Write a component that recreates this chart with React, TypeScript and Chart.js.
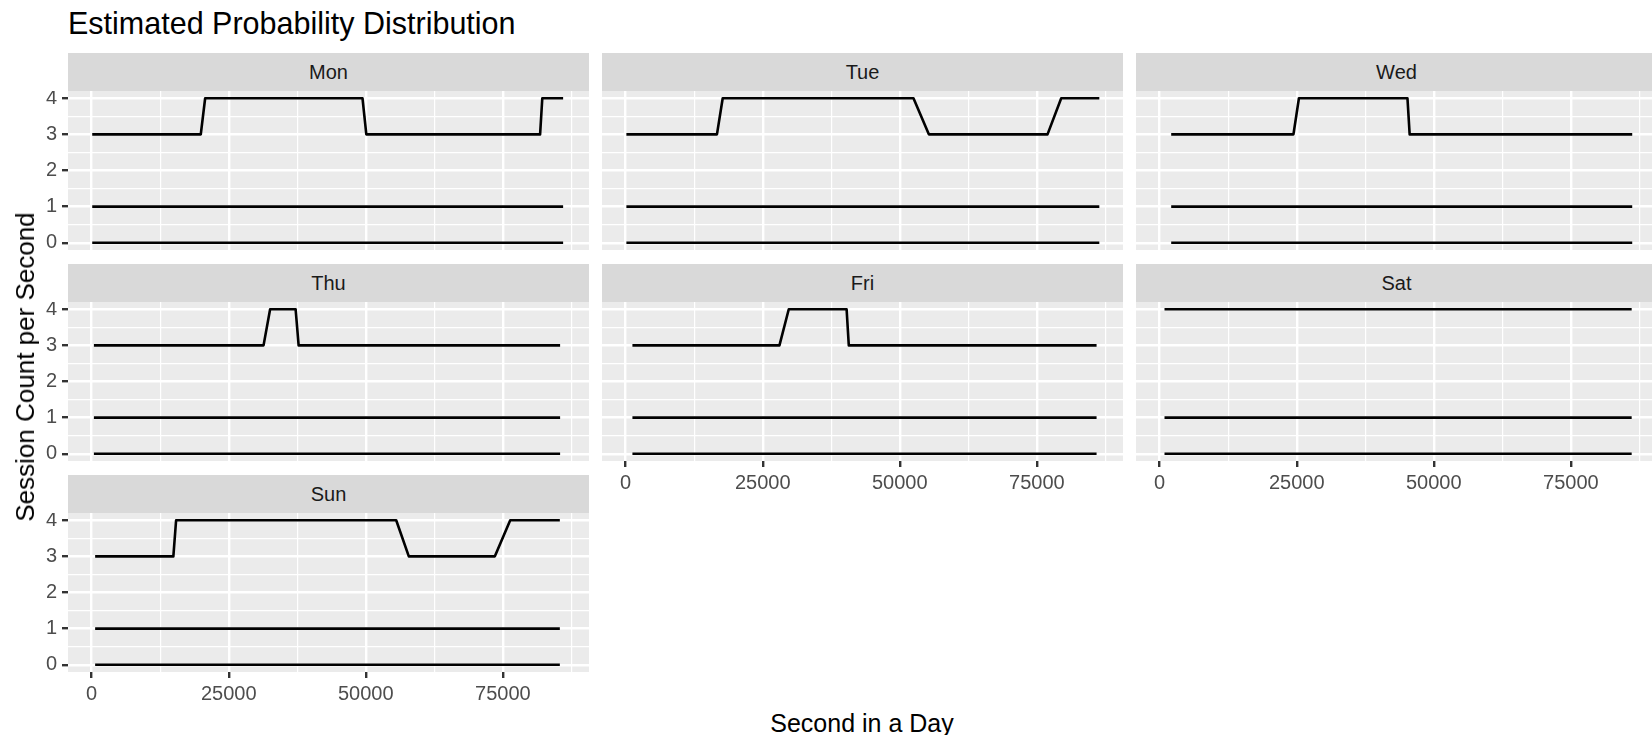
import React, { useEffect, useRef } from 'react';
import { Chart, registerables } from 'chart.js';

Chart.register(...registerables);

// ---------------- data ----------------
const DAYS = ['Mon', 'Tue', 'Wed', 'Thu', 'Fri', 'Sat', 'Sun'];
const X_MAJOR = [0, 25000, 50000, 75000];
const X_MINOR = [12500, 37500, 62500, 87500];
const Y_MAJOR = [0, 1, 2, 3, 4];
const Y_MINOR = [0.5, 1.5, 2.5, 3.5];
const LOW_LEVELS = [0, 1];

const MON_X = [100, 19900, 20700, 49400, 50100, 81800, 82200, 86000];
const MON_Y = [3, 3, 4, 4, 3, 3, 4, 4];
const TUE_X = [130, 16650, 17700, 52500, 55300, 76950, 79450, 86400];
const TUE_Y = [3, 3, 4, 4, 3, 3, 4, 4];
const WED_X = [2100, 24400, 25400, 45200, 45600, 86200];
const WED_Y = [3, 3, 4, 4, 3, 3];
const THU_X = [400, 31350, 32550, 37200, 37750, 85450];
const THU_Y = [3, 3, 4, 4, 3, 3];
const FRI_X = [1230, 28050, 29750, 40300, 40700, 85900];
const FRI_Y = [3, 3, 4, 4, 3, 3];
const SAT_X = [880, 86100];
const SAT_Y = [4, 4];
const SUN_X = [630, 14900, 15400, 55550, 57850, 73550, 76350, 85400];
const SUN_Y = [3, 3, 4, 4, 3, 3, 4, 4];

const SERIES_X = [MON_X, TUE_X, WED_X, THU_X, FRI_X, SAT_X, SUN_X];
const SERIES_Y = [MON_Y, TUE_Y, WED_Y, THU_Y, FRI_Y, SAT_Y, SUN_Y];

// ---------------- layout ----------------
const FONT = "'Liberation Sans', Arial, Helvetica, sans-serif";
const COL_LEFT = [68, 602, 1136];
const PANEL_W = 521;
const STRIP_TOP = [53, 264, 475];
const STRIP_H = 38;
const PLOT_H = 159;
const Y_AXIS_W = 68;
const X_AXIS_H = 46;
const X_MIN = -4320;
const X_MAX = 90720;
const Y_MIN = -0.2;
const Y_MAX = 4.2;

const bgPlugin = {
  id: 'panelBg',
  beforeDraw(chart: any) {
    const { ctx, chartArea } = chart;
    if (!chartArea) return;
    ctx.save();
    ctx.fillStyle = '#EBEBEB';
    ctx.fillRect(chartArea.left, chartArea.top, chartArea.right - chartArea.left, chartArea.bottom - chartArea.top);
    ctx.restore();
  },
};

function Panel({ index, col, row, showY, showX }: { index: number; col: number; row: number; showY: boolean; showX: boolean }) {
  const ref = useRef<HTMLCanvasElement | null>(null);
  const leftPad = showY ? Y_AXIS_W : 0;
  const bottomPad = showX ? X_AXIS_H : 0;
  const width = leftPad + PANEL_W;
  const height = PLOT_H + bottomPad;

  useEffect(() => {
    if (!ref.current) return;
    const xs = SERIES_X[index];
    const ys = SERIES_Y[index];
    const lineStyle = {
      borderColor: '#000000',
      borderWidth: 2.6,
      pointRadius: 0,
      tension: 0,
      fill: false,
      borderJoinStyle: 'round' as const,
    };
    const datasets: any[] = [
      { ...lineStyle, data: xs.map((v, i) => ({ x: v, y: ys[i] })) },
      ...LOW_LEVELS.map((lv) => ({
        ...lineStyle,
        data: [
          { x: xs[0], y: lv },
          { x: xs[xs.length - 1], y: lv },
        ],
      })),
    ];
    const chart = new Chart(ref.current, {
      type: 'line',
      data: { datasets },
      options: {
        animation: false,
        responsive: false,
        maintainAspectRatio: false,
        events: [],
        layout: { padding: 0 },
        plugins: { legend: { display: false }, tooltip: { enabled: false }, title: { display: false } },
        scales: {
          x: {
            type: 'linear',
            position: 'bottom',
            min: X_MIN,
            max: X_MAX,
            afterBuildTicks: (s: any) => {
              s.ticks = [...X_MAJOR, ...X_MINOR].sort((a, b) => a - b).map((v) => ({ value: v }));
            },
            afterFit: (s: any) => {
              s.height = bottomPad;
              s.paddingLeft = 0;
              s.paddingRight = 0;
            },
            ticks: {
              display: showX,
              autoSkip: false,
              maxRotation: 0,
              minRotation: 0,
              padding: 4,
              color: '#4D4D4D',
              font: { family: FONT, size: 20 },
              callback: (v: any) => (X_MAJOR.includes(Number(v)) ? String(v) : ''),
            },
            grid: {
              color: '#FFFFFF',
              lineWidth: (c: any) => (c.tick && X_MAJOR.includes(c.tick.value) ? 2.4 : 1.2),
              drawTicks: showX,
              tickLength: 6,
              tickWidth: 2.4,
              tickColor: (c: any) => (c.tick && X_MAJOR.includes(c.tick.value) ? '#333333' : 'rgba(0,0,0,0)'),
            },
            border: { display: false },
          },
          y: {
            type: 'linear',
            position: 'left',
            min: Y_MIN,
            max: Y_MAX,
            afterBuildTicks: (s: any) => {
              s.ticks = [...Y_MAJOR, ...Y_MINOR].sort((a, b) => a - b).map((v) => ({ value: v }));
            },
            afterFit: (s: any) => {
              s.width = leftPad;
              s.paddingTop = 0;
              s.paddingBottom = 0;
            },
            ticks: {
              display: showY,
              autoSkip: false,
              padding: 5,
              color: '#4D4D4D',
              font: { family: FONT, size: 20 },
              callback: (v: any) => (Y_MAJOR.includes(Number(v)) ? String(v) : ''),
            },
            grid: {
              color: '#FFFFFF',
              lineWidth: (c: any) => (c.tick && Y_MAJOR.includes(c.tick.value) ? 2.4 : 1.2),
              drawTicks: showY,
              tickLength: 6,
              tickWidth: 2.4,
              tickColor: (c: any) => (c.tick && Y_MAJOR.includes(c.tick.value) ? '#333333' : 'rgba(0,0,0,0)'),
            },
            border: { display: false },
          },
        },
      } as any,
      plugins: [bgPlugin],
    });
    return () => chart.destroy();
  }, [index, showX, showY]);

  const plotTop = STRIP_TOP[row] + STRIP_H;
  return (
    <>
      <div
        style={{
          position: 'absolute',
          left: COL_LEFT[col],
          top: STRIP_TOP[row],
          width: PANEL_W,
          height: STRIP_H,
          background: '#D9D9D9',
          color: '#1A1A1A',
          fontFamily: FONT,
          fontSize: 20,
          lineHeight: `${STRIP_H}px`,
          textAlign: 'center',
        }}
      >
        {DAYS[index]}
      </div>
      <canvas
        ref={ref}
        width={width}
        height={height}
        style={{ position: 'absolute', left: COL_LEFT[col] - leftPad, top: plotTop, width, height }}
      />
    </>
  );
}

export default function App() {
  const facets = DAYS.map((d, i) => {
    const col = i % 3;
    const row = Math.floor(i / 3);
    const showY = col === 0;
    const showX = i + 3 >= DAYS.length;
    return <Panel key={d} index={i} col={col} row={row} showY={showY} showX={showX} />;
  });
  return (
    <div
      style={{
        position: 'absolute',
        left: 0,
        top: 0,
        width: 1652,
        height: 735,
        overflow: 'hidden',
        background: '#FFFFFF',
        fontFamily: FONT,
      }}
    >
      <div
        style={{
          position: 'absolute',
          left: 68,
          top: 8,
          fontSize: 30.5,
          lineHeight: '30px',
          color: '#000000',
          whiteSpace: 'nowrap',
        }}
      >
        Estimated Probability Distribution
      </div>
      {facets}
      <div
        style={{
          position: 'absolute',
          left: 25,
          top: 367,
          transform: 'translate(-50%, -50%) rotate(-90deg)',
          fontSize: 26,
          lineHeight: '26px',
          color: '#000000',
          whiteSpace: 'nowrap',
        }}
      >
        Session Count per Second
      </div>
      <div
        style={{
          position: 'absolute',
          left: 862,
          top: 723,
          transform: 'translate(-50%, -50%)',
          fontSize: 25,
          lineHeight: '25px',
          color: '#000000',
          whiteSpace: 'nowrap',
        }}
      >
        Second in a Day
      </div>
    </div>
  );
}
